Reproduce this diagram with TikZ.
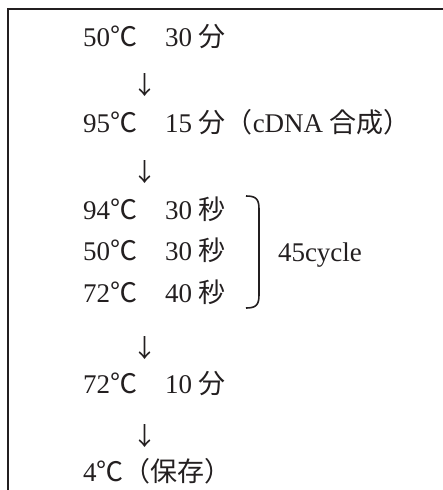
\documentclass[tikz,border=0pt]{standalone}
\usepackage{fontspec}
\setmainfont{Liberation Serif}
\newfontfamily\jp{Noto Sans CJK JP}
\definecolor{ink}{HTML}{231F20}
\begin{document}
\begin{tikzpicture}[x=1pt,y=-1pt,
  every node/.style={inner sep=0pt, outer sep=0pt, text=ink, font=\fontsize{27}{31}\selectfont},
  txt/.style={anchor=base west},
  arr/.style={anchor=center, font=\fontsize{25}{30}\selectfont\jp},
  framel/.style={draw=ink, line width=2pt},
  brk/.style={draw=ink, line width=1.6pt}]
\useasboundingbox (0,0) rectangle (443,490);
\clip (0,0) rectangle (443,490);
\draw[framel] (7.5,500) -- (7.5,9) -- (460,9);
% row 1
\node[txt] (t1) at (83,46) {50{\jp ℃}};
\node[txt] (d1) at (165,46) {30 {\jp 分}};
\node[arr] (a1) at (145,85) {↓};
% row 2
\node[txt] (t2) at (83,132) {95{\jp ℃}};
\node[txt] (d2) at (165,132) {15 {\jp 分（}cDNA {\jp 合成）}};
\node[arr] (a2) at (145,172) {↓};
% cycle
\node[txt] (t3) at (83,219) {94{\jp ℃}};
\node[txt] (d3) at (165,219) {30 {\jp 秒}};
\node[txt] (t4) at (83,260) {50{\jp ℃}};
\node[txt] (d4) at (165,260) {30 {\jp 秒}};
\node[txt] (t5) at (83,302) {72{\jp ℃}};
\node[txt] (d5) at (165,302) {40 {\jp 秒}};
\draw[brk] (246,196) .. controls (256,196) and (259,199) .. (259,209) -- (259,295) .. controls (259,305) and (256,308) .. (246,308);
\node[txt] (cyc) at (278,261) {45cycle};
\node[arr] (a3) at (145,348) {↓};
% row 6
\node[txt] (t6) at (83,393) {72{\jp ℃}};
\node[txt] (d6) at (165,393) {10 {\jp 分}};
\node[arr] (a4) at (145,436) {↓};
% row 7
\node[txt] (t7) at (83,481) {4{\jp ℃（保存）}};
\end{tikzpicture}
\end{document}
